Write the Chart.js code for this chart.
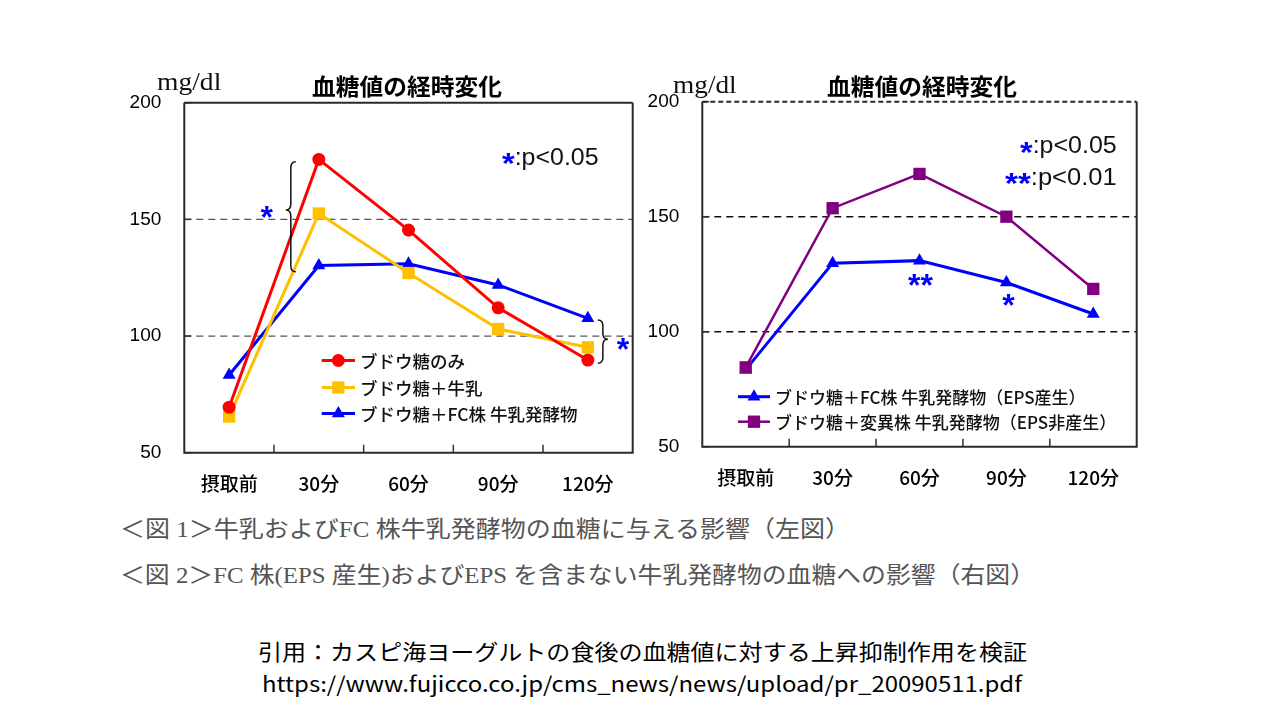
<!DOCTYPE html>
<html lang="ja"><head><meta charset="utf-8">
<script src="https://cdn.jsdelivr.net/npm/chart.js@4.4.1/dist/chart.umd.min.js"></script>
<style>
html,body{margin:0;padding:0;background:#fff;width:1280px;height:720px;overflow:hidden;position:relative}
.box{position:absolute}
.t{position:absolute;white-space:nowrap;transform-origin:0 50%}
</style></head><body>
<div class="box" style="left:100px;top:90px;width:560px;height:420px"><canvas id="c1"></canvas></div>
<div class="box" style="left:620px;top:90px;width:540px;height:410px"><canvas id="c2"></canvas></div>
<script>
// ---- data ----
const categories = ['摂取前','30分','60分','90分','120分'];
const yTicks = [50,100,150,200];
const glucoseOnly = [69.5,175.7,145.4,112.1,89.7];
const glucoseMilk = [65.5,152.5,127.0,103.0,95.2];
const glucoseFC   = [83.3,130.2,131.0,121.9,107.6];
const fcEPS       = [83.5,129.8,130.9,121.4,107.7];
const mutantNoEPS = [84.5,153.7,168.6,150.0,118.6];
const legend1 = ['ブドウ糖のみ','ブドウ糖＋牛乳','ブドウ糖＋FC株 牛乳発酵物'];
const legend2 = ['ブドウ糖＋FC株 牛乳発酵物（EPS産生）','ブドウ糖＋変異株 牛乳発酵物（EPS非産生）'];

const JP = '"Noto Sans CJK JP","Noto Sans",sans-serif';
const SANS = '"Liberation Sans",Arial,sans-serif';

function marker(ctx, style, x, y, r, color){
  ctx.fillStyle = color; ctx.beginPath();
  if(style==='circle'){ ctx.arc(x,y,r,0,Math.PI*2); }
  else if(style==='rect'){ const s=r*Math.SQRT1_2; ctx.rect(x-s,y-s,2*s,2*s); }
  else { const a=2*Math.PI/3; ctx.moveTo(x,y-r); ctx.lineTo(x+r*Math.sin(a),y-r*Math.cos(a)); ctx.lineTo(x+r*Math.sin(2*a),y-r*Math.cos(2*a)); ctx.closePath(); }
  ctx.fill();
}
function brace(ctx, x, yTop, yBot, yTip, dir){
  const h=5, q=6;
  ctx.beginPath();
  ctx.moveTo(x-dir*h, yTop);
  ctx.quadraticCurveTo(x, yTop, x, yTop+q);
  ctx.lineTo(x, yTip-q);
  ctx.quadraticCurveTo(x, yTip, x+dir*h, yTip);
  ctx.quadraticCurveTo(x, yTip, x, yTip+q);
  ctx.lineTo(x, yBot-q);
  ctx.quadraticCurveTo(x, yBot, x-dir*h, yBot);
  ctx.stroke();
}

const framePlugin = {
  id:'frame',
  beforeDatasetsDraw(chart, args, o){
    const {ctx, chartArea:a, scales:{x,y}} = chart;
    ctx.save();
    ctx.strokeStyle = o.gridColor; ctx.lineWidth = o.gridWidth; ctx.setLineDash([7,5]);
    [100,150].forEach(v=>{const py=y.getPixelForValue(v); ctx.beginPath(); ctx.moveTo(a.left,py); ctx.lineTo(a.right,py); ctx.stroke();});
    ctx.setLineDash([]);
    ctx.strokeStyle='#333'; ctx.lineWidth=1.5;
    yTicks.forEach(v=>{const py=y.getPixelForValue(v); ctx.beginPath(); ctx.moveTo(a.left,py); ctx.lineTo(a.left+7,py); ctx.stroke();});
    for(let i=1;i<categories.length;i++){
      const px=(x.getPixelForValue(i-1)+x.getPixelForValue(i))/2;
      ctx.beginPath(); ctx.moveTo(px,a.bottom); ctx.lineTo(px,a.bottom-8); ctx.stroke();
    }
    ctx.lineWidth=2; ctx.strokeStyle='#2a2a2a';
    ctx.beginPath(); ctx.moveTo(a.left,a.top); ctx.lineTo(a.left,a.bottom); ctx.lineTo(a.right,a.bottom); ctx.lineTo(a.right,a.top); ctx.stroke();
    if(o.topDash) ctx.setLineDash([5,3]);
    ctx.beginPath(); ctx.moveTo(a.left,a.top); ctx.lineTo(a.right,a.top); ctx.stroke();
    ctx.restore();
  },
  afterDatasetsDraw(chart, args, o){
    const {ctx, scales:{x,y}} = chart;
    ctx.save();
    ctx.strokeStyle='#111'; ctx.lineWidth=1.5;
    (o.braces||[]).forEach(b=>{
      brace(ctx, x.getPixelForValue(b.cat)+b.dx, y.getPixelForValue(b.from), y.getPixelForValue(b.to), y.getPixelForValue(b.tip), b.dir);
    });
    ctx.fillStyle='#0000ff'; ctx.font='bold 32px '+SANS; ctx.textAlign='center'; ctx.textBaseline='alphabetic';
    (o.stars||[]).forEach(s=>{
      ctx.fillText(s.t, x.getPixelForValue(s.cat)+s.dx, y.getPixelForValue(s.v)+18);
    });
    // legend
    const L=o.legend;
    chart.data.datasets.forEach((d,i)=>{
      const ry=L.rows[L.order[i]];
      ctx.strokeStyle=d.borderColor; ctx.lineWidth=d.borderWidth;
      ctx.beginPath(); ctx.moveTo(L.x0,ry); ctx.lineTo(L.x1,ry); ctx.stroke();
      marker(ctx, d.pointStyle, (L.x0+L.x1)/2, ry, d.pointRadius, d.borderColor);
      ctx.fillStyle='#111'; ctx.font=L.font; ctx.textAlign='left'; ctx.textBaseline='middle';
      ctx.fillText(d.label, L.tx, ry+1);
    });
    ctx.restore();
  }
};

function ds(label, data, color, style, r, bw, order){
  return {label, data, borderColor:color, backgroundColor:color, pointStyle:style,
    pointRadius:r, pointHoverRadius:r, pointBorderWidth:0, borderWidth:bw, tension:0, order, clip:false};
}
function opts(padTop, padRight, yW, xH, frame){
  return {
    responsive:true, maintainAspectRatio:false, animation:false, events:[],
    layout:{padding:{top:padTop,right:padRight,bottom:0,left:0}},
    plugins:{legend:{display:false}, tooltip:{enabled:false}, frame},
    scales:{
      x:{type:'category', offset:true, grid:{display:false,drawTicks:false}, border:{display:false},
         ticks:{padding:20,color:'#000',font:{family:JP,size:19,weight:'500'}},
         afterFit(s){s.height=xH; s.paddingLeft=0; s.paddingRight=0;}},
      y:{min:50,max:200, grid:{display:false,drawTicks:false}, border:{display:false},
         ticks:{stepSize:50,padding:23,color:'#000',font:{family:SANS,size:19}},
         afterFit(s){s.width=yW; s.paddingTop=0; s.paddingBottom=0;}}
    }
  };
}

new Chart(document.getElementById('c1'), {
  type:'line',
  data:{labels:categories, datasets:[
    ds(legend1[0], glucoseOnly, '#ff0000', 'circle', 6.5, 3, 1),
    ds(legend1[1], glucoseMilk, '#ffc000', 'rect', 8.7, 3, 2),
    ds(legend1[2], glucoseFC, '#0000ff', 'triangle', 7.5, 3, 3)
  ]},
  options:opts(12.7, 27.3, 84.3, 57.3, {
    gridColor:'#555', gridWidth:1.3, topDash:false,
    braces:[{cat:1,dx:-28,from:174.7,to:127.6,tip:154,dir:-1},{cat:4,dx:15,from:106.9,to:88.3,tip:98.6,dir:1}],
    stars:[{cat:1,dx:-52,v:154,t:'*'},{cat:4,dx:35,v:97.3,t:'*'}],
    legend:{x0:221.7,x1:255,tx:260,rows:[270.5,297.5,323.5],order:[0,1,2],font:'500 17.5px '+JP}
  }),
  plugins:[framePlugin]
});

new Chart(document.getElementById('c2'), {
  type:'line',
  data:{labels:categories, datasets:[
    ds(legend2[0], fcEPS, '#0000ff', 'triangle', 7.5, 3, 2),
    ds(legend2[1], mutantNoEPS, '#800080', 'rect', 8.7, 2.5, 1)
  ]},
  options:opts(11.7, 23.3, 82.3, 53.3, {
    gridColor:'#111', gridWidth:1.6, topDash:true,
    braces:[],
    stars:[{cat:2,dx:1,v:123.2,t:'**'},{cat:3,dx:2,v:114.5,t:'*'}],
    legend:{x0:118,x1:150,tx:155,rows:[306.7,331.7],order:[0,1],font:'500 17px '+JP}
  }),
  plugins:[framePlugin]
});

// ---- text ----
function put(html, o){
  const d=document.createElement('div'); d.className='t'; d.innerHTML=html;
  d.style.font=o.font; d.style.color=o.color||'#000'; d.style.lineHeight=o.lh+'px';
  document.body.appendChild(d);
  const w=d.getBoundingClientRect().width;
  const s=o.w? o.w/w : 1;
  d.style.transform='scaleX('+s+')';
  const tw=w*s;
  const left = o.align==='center'? o.cx-tw/2 : o.align==='right'? o.xr-tw : o.x;
  d.style.left=left+'px'; d.style.top=(o.cy-o.lh/2)+'px';
}
const TITLE='血糖値の経時変化';
put(TITLE,{font:'bold 23px '+JP,lh:28,align:'center',cx:406.7,cy:85,w:190});
put(TITLE,{font:'bold 23px '+JP,lh:28,align:'center',cx:921.7,cy:85,w:190});
put('mg/dl',{font:'26px "Liberation Serif",serif',lh:30,x:156.7,cy:82,w:64.3,color:'#111'});
put('mg/dl',{font:'26px "Liberation Serif",serif',lh:30,x:673,cy:85,w:63.7,color:'#111'});
const STAR='<span style="color:#0000ff;font-weight:bold;font-size:1.3em;position:relative;top:0.28em">*</span>';
put(STAR+':p&lt;0.05',{font:'23px '+SANS,lh:28,x:501.7,cy:155,w:96.6,color:'#111'});
put(STAR+':p&lt;0.05',{font:'23px '+SANS,lh:28,align:'right',xr:1116.7,cy:143.3,w:96.7,color:'#111'});
put(STAR+STAR+':p&lt;0.01',{font:'23px '+SANS,lh:28,align:'right',xr:1116.7,cy:175,w:111.7,color:'#111'});
const CAP='23px "Liberation Serif","Noto Sans CJK JP",serif';
put('＜図 1＞牛乳およびFC 株牛乳発酵物の血糖に与える影響（左図）',{font:CAP,lh:30,x:120,cy:530,w:730,color:'#555'});
put('＜図 2＞FC 株(EPS 産生)およびEPS を含まない牛乳発酵物の血糖への影響（右図）',{font:CAP,lh:30,x:120,cy:576,w:915,color:'#555'});
put('引用：カスピ海ヨーグルトの食後の血糖値に対する上昇抑制作用を検証',{font:'22px '+JP,lh:28,x:258,cy:650,w:769,color:'#000'});
put('https://www.fujicco.co.jp/cms_news/news/upload/pr_20090511.pdf',{font:'21px '+JP,lh:28,x:262,cy:683,w:760,color:'#000'});
</script>
</body></html>
